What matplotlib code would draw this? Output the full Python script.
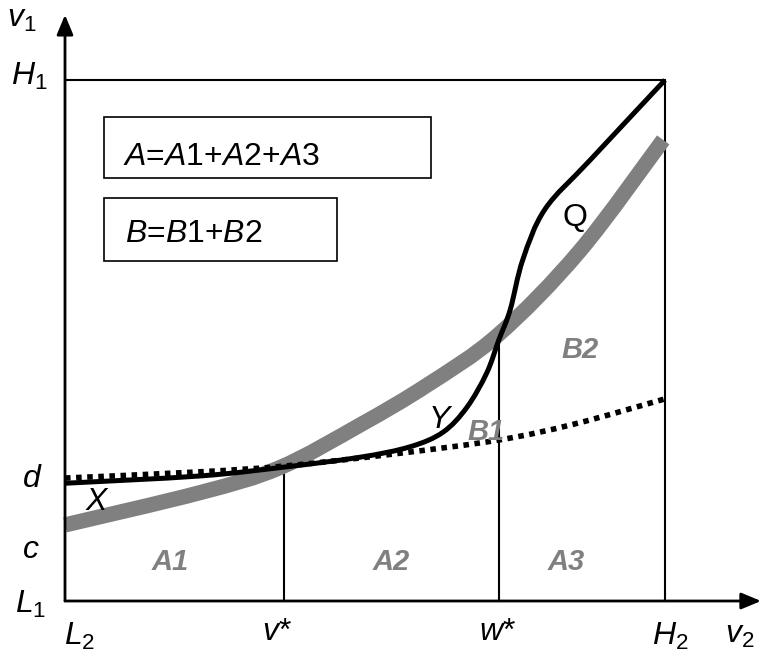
import matplotlib
matplotlib.use("Agg")
import numpy as np
import matplotlib.pyplot as plt
from matplotlib.patches import Rectangle, PathPatch
from matplotlib.path import Path

plt.rcParams["font.family"] = ["Liberation Sans", "DejaVu Sans"]
plt.rcParams["mathtext.fontset"] = "custom"
plt.rcParams["mathtext.rm"] = "Liberation Sans"
plt.rcParams["mathtext.it"] = "Liberation Sans:italic"
plt.rcParams["mathtext.bf"] = "Liberation Sans:bold"

GRAY = "#808080"

# axis landmarks (L2 = L1 = 0, H2 = H1 = 1)
v_star = 0.365
w_star = 0.723

# thick gray curve
gray_x = [0.0, 0.225, 0.358, 0.492, 0.603, 0.722, 0.858, 0.997]
gray_y = [0.146, 0.208, 0.256, 0.338, 0.414, 0.511, 0.672, 0.885]

# dotted reference curve starting at d
dot_x = [0.0, 0.225, 0.365, 0.547, 0.723, 0.85, 1.0]
dot_y = [0.236, 0.248, 0.259, 0.282, 0.309, 0.340, 0.388]

# solid black curve X -> Y -> Q ending at (H2, H1)
blk_x = [0.0, 0.225, 0.365, 0.492, 0.575, 0.63, 0.67, 0.703, 0.723, 0.742,
         0.763, 0.80, 0.875, 1.0]
blk_y = [0.226, 0.240, 0.257, 0.276, 0.296, 0.324, 0.372, 0.438, 0.501, 0.559,
         0.655, 0.752, 0.846, 1.0]


def smooth_path(xs, ys):
    """Catmull-Rom spline through the points, as cubic Bezier segments."""
    p = np.column_stack([xs, ys])
    pad = np.vstack([p[0], p, p[-1]])
    verts = [p[0]]
    codes = [Path.MOVETO]
    for i in range(1, len(pad) - 2):
        p0, p1, p2, p3 = pad[i - 1], pad[i], pad[i + 1], pad[i + 2]
        verts += [p1 + (p2 - p0) / 6, p2 - (p3 - p1) / 6, p2]
        codes += [Path.CURVE4] * 3
    return Path(verts, codes)


fig = plt.figure(figsize=(7.61, 6.56), dpi=100)
ax = fig.add_axes([0, 0, 1, 1])
ax.set_xlim(-65 / 600, 696 / 600)
ax.set_ylim(-55 / 521, 601 / 521)
ax.axis("off")

# frame: top and right edges of the unit square
ax.plot([0, 1, 1], [1, 1, 0], color="black", lw=1.5, solid_joinstyle="miter")

# coordinate axes with filled arrow heads
arrow = dict(arrowstyle="-|>,head_length=0.6,head_width=0.25", color="black",
             lw=2, mutation_scale=20, shrinkA=0, shrinkB=0)
ax.annotate("", xy=(0, 1.125), xytext=(0, 0), arrowprops=arrow)
ax.annotate("", xy=(696 / 600, 0), xytext=(0, 0), arrowprops=arrow)

ax.add_patch(PathPatch(smooth_path(gray_x, gray_y), fill=False, edgecolor=GRAY,
                       lw=11, capstyle="butt", zorder=2))
ax.add_patch(PathPatch(smooth_path(dot_x, dot_y), fill=False, edgecolor="black",
                       lw=4, linestyle=(0, (1, 1)), capstyle="butt", zorder=3))
ax.add_patch(PathPatch(smooth_path(blk_x, blk_y), fill=False, edgecolor="black",
                       lw=3.6, capstyle="butt", joinstyle="round", zorder=4))

# vertical markers at v* and w*
ax.plot([v_star, v_star], [0, 0.258], color="black", lw=1.5, zorder=1)
ax.plot([w_star, w_star], [0, 0.496], color="black", lw=1.5, zorder=1)

# formula boxes
ax.add_patch(Rectangle((0.065, 0.812), 0.545, 0.117, fill=False, lw=1.2))
ax.add_patch(Rectangle((0.065, 0.653), 0.388, 0.121, fill=False, lw=1.2))
ax.text(0.097, 0.837, "$A$=$A$1+$A$2+$A$3", fontsize=23, va="baseline")
ax.text(0.1, 0.689, "$B$=$B$1+$B$2", fontsize=23, va="baseline")

lab = dict(fontsize=23, va="baseline", ha="left")
ax.text(-0.097, 1.102, r"$v_{\mathit{1}}$", **lab)
ax.text(-0.09, 0.990, r"$H_1$", **lab)
ax.text(-0.072, 0.219, r"$d$", **lab)
ax.text(-0.072, 0.083, r"$c$", **lab)
ax.text(-0.083, -0.023, r"$L_1$", **lab)
ax.text(-0.002, -0.084, r"$L_2$", **lab)
ax.text(0.328, -0.075, r"$v$*", **lab)
ax.text(0.69, -0.075, r"$w$*", **lab)
ax.text(0.978, -0.084, r"$H_2$", **lab)
ax.text(1.1, -0.081, r"$v_2$", **lab)

ax.text(0.033, 0.175, r"$X$", **lab)
ax.text(0.605, 0.332, r"$Y$", **lab)
ax.text(0.83, 0.72, "Q", **lab)

area = dict(fontsize=21, va="baseline", ha="left", color=GRAY,
            fontweight="bold", fontstyle="italic")
ax.text(0.145, 0.06, "A1", **area)
ax.text(0.512, 0.06, "A2", **area)
ax.text(0.805, 0.06, "A3", **area)
ax.text(0.67, 0.309, "B1", **area)
ax.text(0.828, 0.466, "B2", **area)

fig.savefig("out.png", dpi=100)
